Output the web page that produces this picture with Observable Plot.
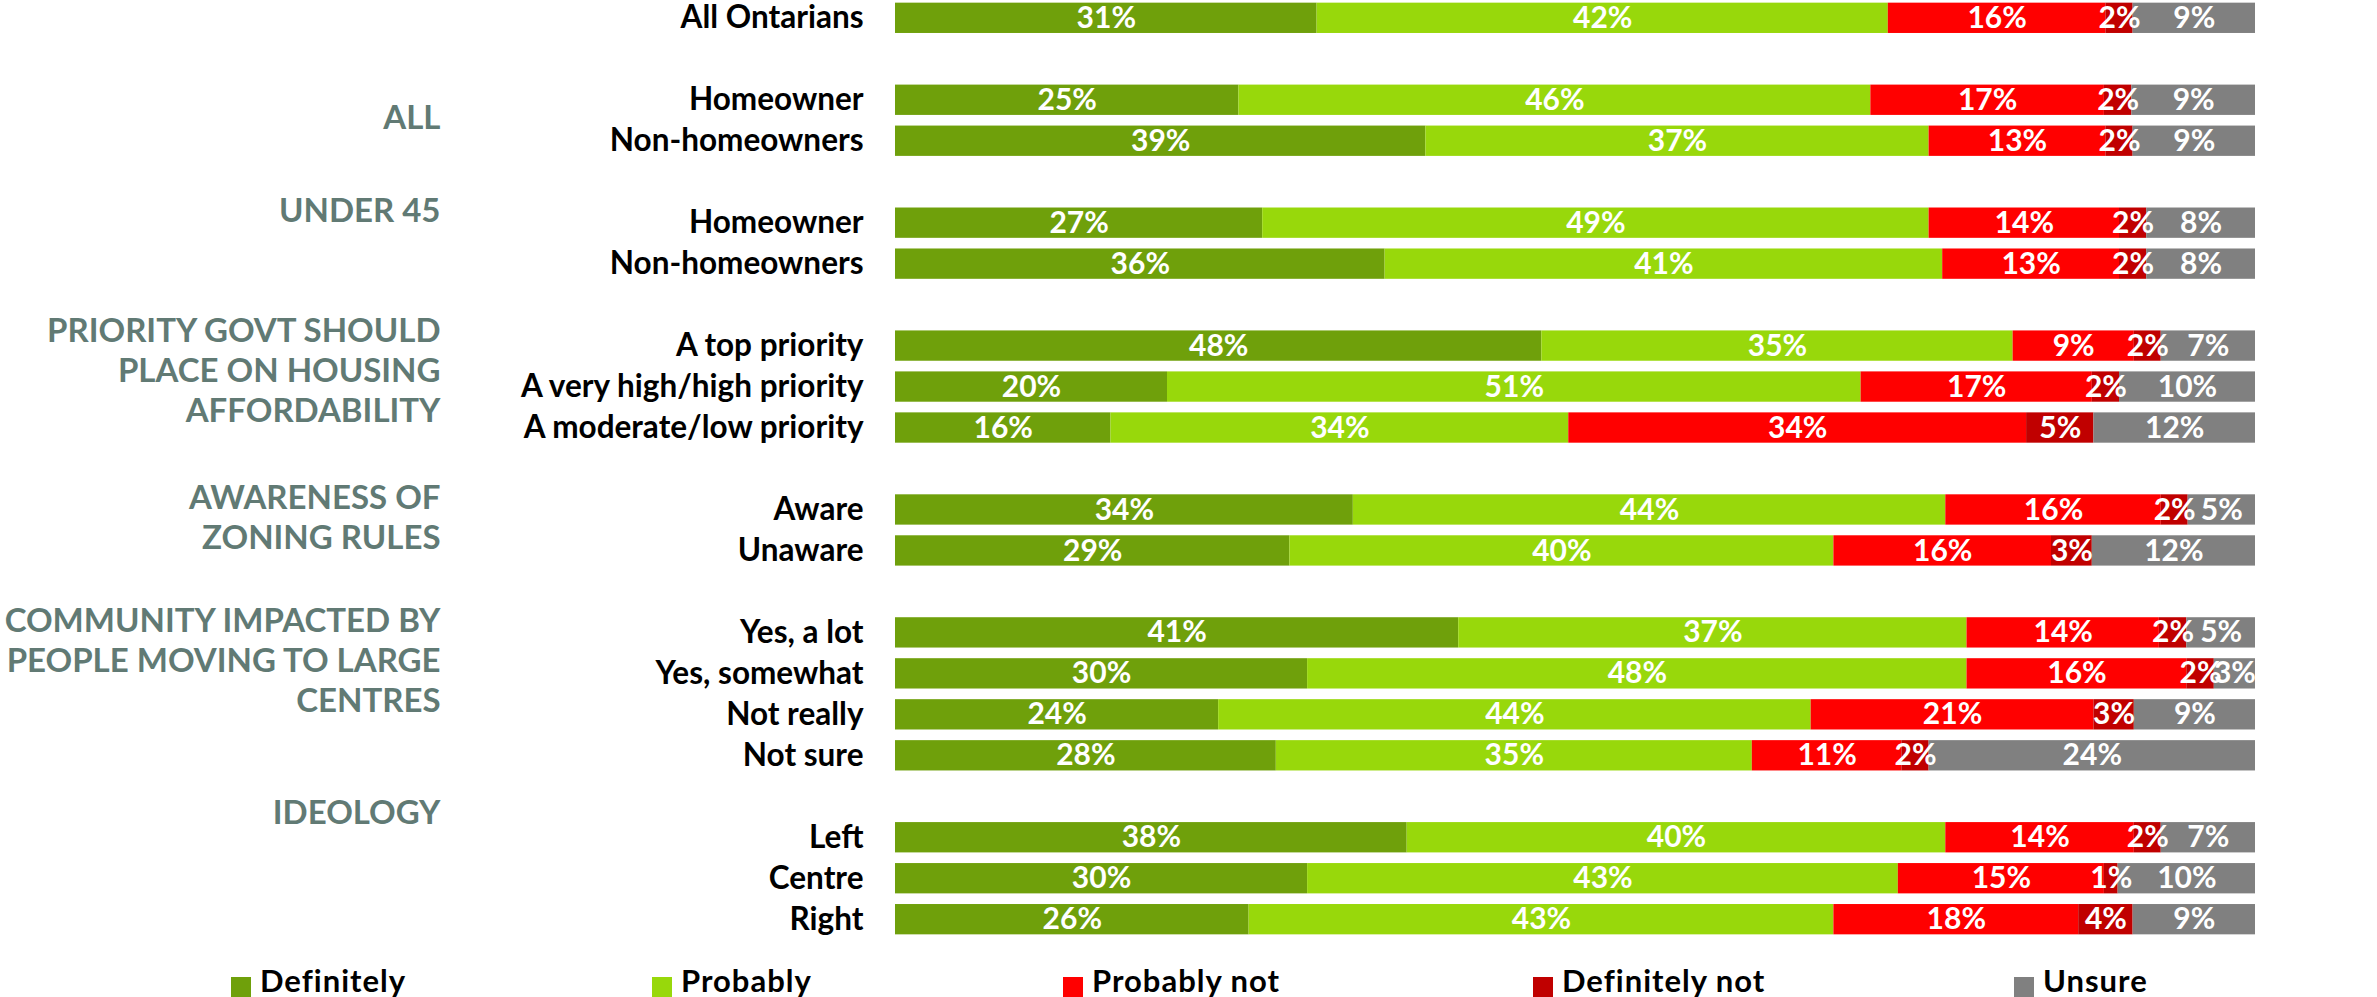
<!DOCTYPE html>
<html>
<head>
<meta charset="utf-8">
<script src="https://cdn.jsdelivr.net/npm/d3@7"></script>
<script src="https://cdn.jsdelivr.net/npm/@observablehq/plot@0.6"></script>
<style>
  html, body { margin: 0; padding: 0; background: #fff; }
  body { width: 2377px; height: 997px; overflow: hidden; font-family: Lato, "Open Sans", sans-serif; }
  #legend { position: relative; height: 52px; }
  .item { position: absolute; top: 17px; line-height: 36px; font-size: 31px; letter-spacing: 1px; font-weight: 700; color: #000; white-space: nowrap; }
  .swatch { display: inline-block; width: 20px; height: 20px; vertical-align: -5px; margin-right: 9px; }
</style>
</head>
<body>
<div id="chart"></div>
<div id="legend"></div>
<script>
// ---- data ----
const categories = ["Definitely", "Probably", "Probably not", "Definitely not", "Unsure"];
const colors = ["#6fa00b", "#98d80b", "#ff0000", "#c00000", "#808080"];

const rowGroups = ["", "ALL", "ALL", "UNDER 45", "UNDER 45",
  "PRIORITY", "PRIORITY", "PRIORITY", "AWARENESS", "AWARENESS",
  "COMMUNITY", "COMMUNITY", "COMMUNITY", "COMMUNITY", "IDEOLOGY", "IDEOLOGY", "IDEOLOGY"];
const rowLabels = ["All Ontarians", "Homeowner", "Non-homeowners", "Homeowner", "Non-homeowners",
  "A top priority", "A very high/high priority", "A moderate/low priority", "Aware", "Unaware",
  "Yes, a lot", "Yes, somewhat", "Not really", "Not sure", "Left", "Centre", "Right"];

const definitely   = [31, 25, 39, 27, 36, 48, 20, 16, 34, 29, 41, 30, 24, 28, 38, 30, 26];
const probably     = [42, 46, 37, 49, 41, 35, 51, 34, 44, 40, 37, 48, 44, 35, 40, 43, 43];
const probablyNot  = [16, 17, 13, 14, 13,  9, 17, 34, 16, 16, 14, 16, 21, 11, 14, 15, 18];
const definitelyNot= [ 2,  2,  2,  2,  2,  2,  2,  5,  2,  3,  2,  2,  3,  2,  2,  1,  4];
const unsure       = [ 9,  9,  9,  8,  8,  7, 10, 12,  5, 12,  5,  3,  9, 24,  7, 10,  9];

const groupKeys   = ["ALL", "UNDER 45", "PRIORITY", "AWARENESS", "COMMUNITY", "IDEOLOGY"];
const groupTitles = ["ALL", "UNDER 45", "PRIORITY GOVT SHOULD\nPLACE ON HOUSING\nAFFORDABILITY",
  "AWARENESS OF\nZONING RULES", "COMMUNITY IMPACTED BY\nPEOPLE MOVING TO LARGE\nCENTRES", "IDEOLOGY"];

// ---- layout / style (not data) ----
const groupLabelNudge = {"ALL": 0, "PRIORITY": -32, "IDEOLOGY": -42.5};
const groupLabelBaseNudge = -29.5;
const legendLeft = [231, 652, 1063, 1533, 2014];

// ---- build tables ----
const series = [definitely, probably, probablyNot, definitelyNot, unsure];
const rowKeys = rowLabels.map((l, i) => `${i}|${l}`);
const domain = [];
rowKeys.forEach((k, i) => {
  if (i > 0 && rowGroups[i] !== rowGroups[i - 1]) domain.push(`gap${i}`);
  domain.push(k);
});
const long = [];
categories.forEach((c, ci) => {
  rowKeys.forEach((k, i) => long.push({row: k, cat: c, value: series[ci][i]}));
});
const groupData = groupKeys.map((g, gi) => ({
  key: g,
  title: groupTitles[gi],
  row: rowKeys[rowGroups.indexOf(g)]
}));

const font = "Lato, 'Open Sans', sans-serif";
const stackOpts = {x: "value", y: "row", z: "cat", offset: "normalize", order: categories};

const plot = Plot.plot({
  width: 2377,
  height: 945,
  marginLeft: 895,
  marginRight: 122,
  marginTop: -8,
  marginBottom: 0,
  style: {fontFamily: font, background: "white", color: "black", overflow: "visible"},
  x: {domain: [0, 1], axis: null},
  y: {domain, padding: 0.26, round: false, axis: null},
  color: {domain: categories, range: colors},
  marks: [
    Plot.barX(long, Plot.stackX({...stackOpts, fill: "cat"})),
    Plot.text(long, Plot.stackX({
      ...stackOpts,
      text: d => `${d.value}%`,
      fill: "white",
      fontSize: 30,
      fontWeight: 700
    })),
    Plot.axisY({
      ticks: rowKeys,
      tickSize: 0,
      tickPadding: 32,
      fontSize: 31.5,
      fontWeight: 700,
      label: null,
      tickFormat: k => k.split("|")[1]
    }),
    ...groupData.map(g => Plot.text([g], {
      y: "row",
      text: "title",
      frameAnchor: "left",
      textAnchor: "end",
      lineAnchor: "top",
      lineHeight: 1.21,
      dx: -455,
      dy: groupLabelNudge[g.key] ?? groupLabelBaseNudge,
      fill: "#617a74",
      fontSize: 33,
      fontWeight: 700
    }))
  ]
});
document.getElementById("chart").appendChild(plot);

const legend = document.getElementById("legend");
categories.forEach((c, i) => {
  const item = document.createElement("div");
  item.className = "item";
  item.style.left = legendLeft[i] + "px";
  const sw = document.createElement("span");
  sw.className = "swatch";
  sw.style.background = colors[i];
  item.appendChild(sw);
  item.appendChild(document.createTextNode(c));
  legend.appendChild(item);
});
</script>
</body>
</html>
